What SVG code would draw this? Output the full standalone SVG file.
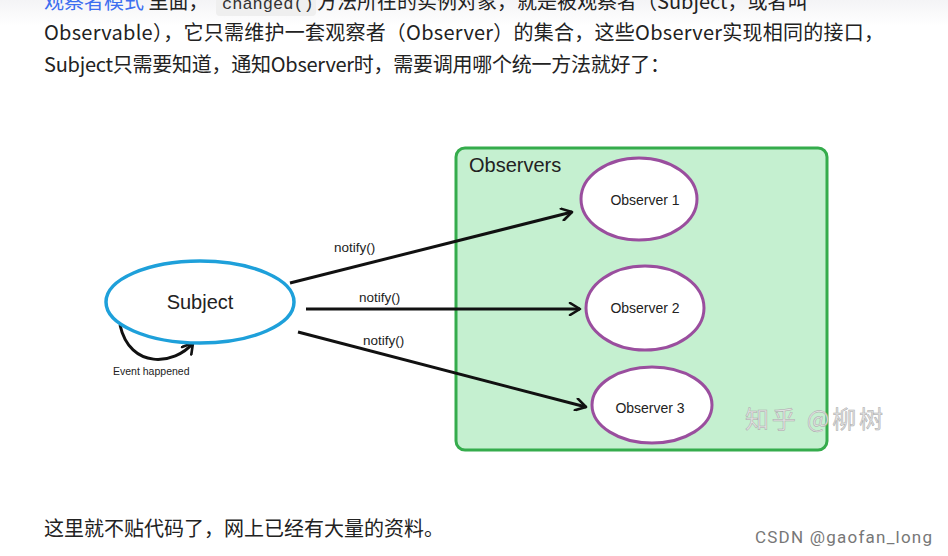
<svg xmlns="http://www.w3.org/2000/svg" width="948" height="556" viewBox="0 0 948 556">
<defs>
<style>
.p{font-family:"Noto Sans CJK SC","Liberation Sans",sans-serif;font-size:20px;fill:#222}
.lk{fill:#3d6ef0}
.code{font-family:"Liberation Mono","DejaVu Sans Mono",monospace;font-size:17px;fill:#333}
.dg{font-family:"Liberation Sans",Arial,sans-serif;fill:#222}
.obs{fill:#fff;stroke:#9a4e9e;stroke-width:3}
.conn{stroke:#111;stroke-width:3;fill:none;marker-end:url(#ah)}
</style>
<marker id="ah" viewBox="0 0 14 14" refX="12" refY="7" markerWidth="14" markerHeight="14" markerUnits="userSpaceOnUse" orient="auto">
<path d="M2,1 L12,7 L2,13" fill="none" stroke="#111" stroke-width="2.6" stroke-linecap="round" stroke-linejoin="round"/>
</marker>
<linearGradient id="topg" x1="0" y1="0" x2="0" y2="1">
<stop offset="0" stop-color="#f4f4f6"/>
<stop offset="1" stop-color="#ffffff"/>
</linearGradient>
</defs>
<rect width="948" height="556" fill="#fff"/>
<rect x="0" y="0" width="948" height="26" fill="url(#topg)"/>
<g id="text-top">
<rect x="216" y="-6" width="100" height="22" rx="4" fill="#efefef"/>
<text class="p" x="44" y="9"><tspan class="lk">观察者模式</tspan> 里面，</text>
<text class="code" x="222" y="9">changed()</text>
<text class="p" x="317" y="9">方法所在的实例对象，就是被观察者（Subject，或者叫</text>
<text class="p" x="44" y="40" textLength="840" lengthAdjust="spacing">Observable），它只需维护一套观察者（Observer）的集合，这些Observer实现相同的接口，</text>
<text class="p" x="44" y="72" textLength="626" lengthAdjust="spacing">Subject只需要知道，通知Observer时，需要调用哪个统一方法就好了：</text>
</g>
<g id="observers">
<rect x="456" y="148" width="371" height="302" rx="9" fill="#c5f0d0" stroke="#35ac4c" stroke-width="3"/>
<text class="dg" x="469" y="172" font-size="20">Observers</text>
</g>
<text x="745" y="428" font-family="'Noto Sans CJK SC',sans-serif" font-size="24" fill="#e2e2e2" stroke="#aaaaaa" stroke-width="0.5" textLength="138" lengthAdjust="spacing">知乎 @柳树</text>
<g id="connectors">
<line class="conn" x1="290" y1="283" x2="572" y2="212"/>
<line class="conn" x1="306" y1="309" x2="580" y2="309"/>
<line class="conn" x1="298" y1="332" x2="586" y2="407"/>
<path class="conn" d="M120,325 C130,370 175,365 193,343"/>
<text class="dg" x="334" y="252" font-size="13.5">notify()</text>
<text class="dg" x="359" y="302" font-size="13.5">notify()</text>
<text class="dg" x="363" y="345" font-size="13.5">notify()</text>
<text class="dg" x="113" y="375" font-size="10.5" fill="#333">Event happened</text>
</g>
<g id="subject">
<ellipse cx="200" cy="302" rx="94" ry="41" fill="#fff" stroke="#1ea0da" stroke-width="3.5"/>
<text class="dg" x="200" y="309" font-size="20" text-anchor="middle">Subject</text>
</g>
<g id="observer1">
<ellipse class="obs" cx="639" cy="199" rx="58" ry="41"/>
<text class="dg" x="645" y="205" font-size="14" text-anchor="middle">Observer 1</text>
</g>
<g id="observer2">
<ellipse class="obs" cx="645" cy="308" rx="59" ry="42"/>
<text class="dg" x="645" y="313" font-size="14" text-anchor="middle">Observer 2</text>
</g>
<g id="observer3">
<ellipse class="obs" cx="652" cy="405" rx="60" ry="38"/>
<text class="dg" x="650" y="413" font-size="14" text-anchor="middle">Observer 3</text>
</g>
<g id="text-bottom">
<text class="p" x="44" y="536">这里就不贴代码了，网上已经有大量的资料。</text>
<text x="755" y="543" font-family="'Roboto','Liberation Sans',sans-serif" font-size="17" fill="#777" textLength="177" lengthAdjust="spacing">CSDN @gaofan_long</text>
</g>
</svg>
